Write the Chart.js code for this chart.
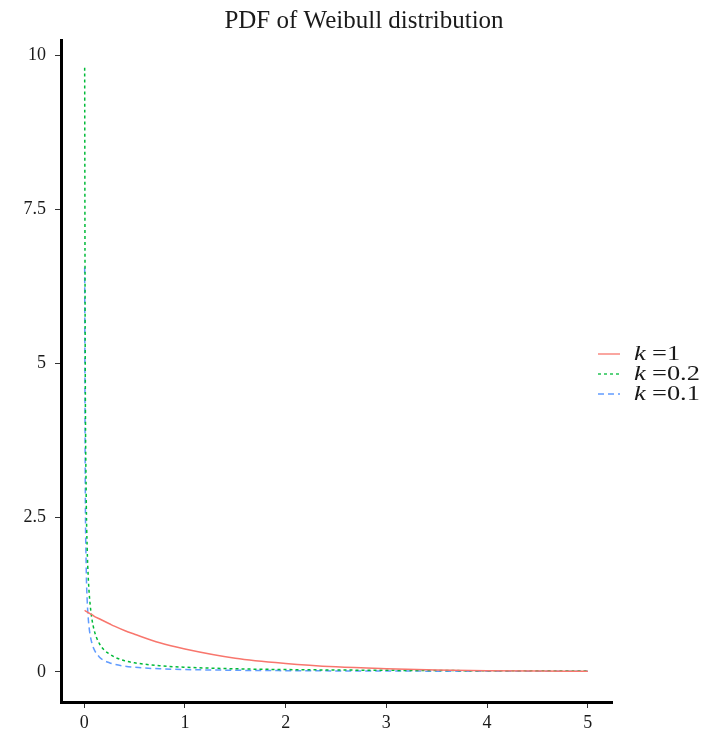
<!DOCTYPE html>
<html>
<head>
<meta charset="utf-8">
<title>PDF of Weibull distribution</title>
<script src="https://cdn.jsdelivr.net/npm/chart.js@4.4.1/dist/chart.umd.min.js"></script>
<style>
    html, body { margin: 0; padding: 0; background: #ffffff; }
    #wrap { position: relative; width: 706px; height: 740px; }
</style>
</head>
<body>
<div id="wrap"><canvas id="weibullChart"></canvas></div>
<script>
// x positions (lambda = 1)
const xValues = [0.005, 0.01, 0.02, 0.03, 0.04, 0.05, 0.06, 0.075, 0.1, 0.15, 0.2, 0.25, 0.3, 0.4, 0.5, 0.75, 1, 1.5, 2, 2.5, 3, 3.5, 4, 4.5, 5];

// density for each shape k
const k1Values  = [1.0, 0.99, 0.98, 0.97, 0.96, 0.95, 0.94, 0.93, 0.90, 0.86, 0.82, 0.78, 0.74, 0.67, 0.61, 0.47, 0.37, 0.22, 0.135, 0.08, 0.05, 0.03, 0.018, 0.011, 0.007];
const k02Values = [9.8, 5.35, 2.9, 2.0, 1.55, 1.27, 1.08, 0.875, 0.67, 0.46, 0.35, 0.29, 0.24, 0.18, 0.146, 0.098, 0.074, 0.049, 0.036, 0.029, 0.024, 0.020, 0.018, 0.0155, 0.014];
const k01Values = [6.56, 3.36, 1.72, 1.16, 0.88, 0.705, 0.59, 0.476, 0.359, 0.241, 0.182, 0.147, 0.122, 0.092, 0.073, 0.049, 0.037, 0.0245, 0.0183, 0.0146, 0.0122, 0.0105, 0.0091, 0.0081, 0.0073];

const xTicks = [0, 1, 2, 3, 4, 5];
const yTicks = [0, 2.5, 5, 7.5, 10];
const legendLabels = ['1', '0.2', '0.1'];
const chartTitle = 'PDF of Weibull distribution';

const serif = '"Liberation Serif", "Times New Roman", serif';

function toPoints(ys) {
    return xValues.map((x, i) => ({ x: x, y: ys[i] }));
}

const seriesStyles = [
    { color: '#F8766D', dash: [] },
    { color: '#00BA38', dash: [3, 3] },
    { color: '#619CFF', dash: [6, 4] }
];

// legend text in the reference is a bit wider than the font, so stretch it
function drawWideText(ctx, text, x, y, font, stretch) {
    ctx.save();
    ctx.font = font;
    ctx.translate(x, y);
    ctx.scale(stretch, 1);
    ctx.textAlign = 'left';
    ctx.fillText(text, 0, 0);
    ctx.restore();
}

// title + legend on the right side, drawn on the canvas
const extraText = {
    id: 'extraText',
    afterDraw(chart) {
        const ctx = chart.ctx;
        ctx.save();
        ctx.fillStyle = '#1a1a1a';
        ctx.textBaseline = 'alphabetic';
        ctx.textAlign = 'center';
        ctx.font = '25px ' + serif;
        ctx.fillText(chartTitle, 364, 28);

        const rowY = [354, 374, 394];
        legendLabels.forEach((label, i) => {
            const st = seriesStyles[i];
            ctx.strokeStyle = st.color;
            ctx.lineWidth = 1.3;
            ctx.setLineDash(st.dash);
            ctx.beginPath();
            ctx.moveTo(598, rowY[i]);
            ctx.lineTo(620, rowY[i]);
            ctx.stroke();
            ctx.setLineDash([]);
            ctx.fillStyle = '#1a1a1a';
            ctx.textBaseline = 'middle';
            drawWideText(ctx, 'k', 634, rowY[i], 'italic 22px ' + serif, 1.2);
            drawWideText(ctx, '=' + label, 652, rowY[i], '22px ' + serif, 1.2);
        });
        ctx.restore();
    }
};

const ctx = document.getElementById('weibullChart').getContext('2d');
new Chart(ctx, {
    type: 'line',
    data: {
        datasets: [k1Values, k02Values, k01Values].map((vals, i) => ({
            label: 'k =' + legendLabels[i],
            data: toPoints(vals),
            borderColor: seriesStyles[i].color,
            borderDash: seriesStyles[i].dash,
            borderWidth: 1.5,
            pointRadius: 0,
            fill: false,
            cubicInterpolationMode: 'monotone'
        }))
    },
    options: {
        responsive: true,
        maintainAspectRatio: false,
        animation: false,
        layout: { padding: { left: 0, right: 94, top: 40, bottom: 0 } },
        plugins: {
            legend: { display: false },
            tooltip: { enabled: false },
            title: { display: false }
        },
        scales: {
            x: {
                type: 'linear',
                min: -0.23,
                max: 5.24,
                afterBuildTicks: scale => { scale.ticks = xTicks.map(v => ({ value: v })); },
                afterFit: scale => { scale.height = 38; },
                ticks: {
                    color: '#1a1a1a',
                    font: { family: serif, size: 18 },
                    padding: 4,
                    maxRotation: 0,
                    callback: v => String(v)
                },
                grid: { drawOnChartArea: false, tickLength: 6, color: '#333', lineWidth: 1 },
                border: { display: true, color: '#000', width: 3 }
            },
            y: {
                type: 'linear',
                min: -0.49,
                max: 10.25,
                afterBuildTicks: scale => { scale.ticks = yTicks.map(v => ({ value: v })); },
                afterFit: scale => { scale.width = 61; },
                ticks: {
                    color: '#1a1a1a',
                    font: { family: serif, size: 18 },
                    padding: 9,
                    callback: v => String(v)
                },
                grid: { drawOnChartArea: false, tickLength: 6, color: '#333', lineWidth: 1 },
                border: { display: true, color: '#000', width: 3 }
            }
        }
    },
    plugins: [extraText]
});
</script>
</body>
</html>
